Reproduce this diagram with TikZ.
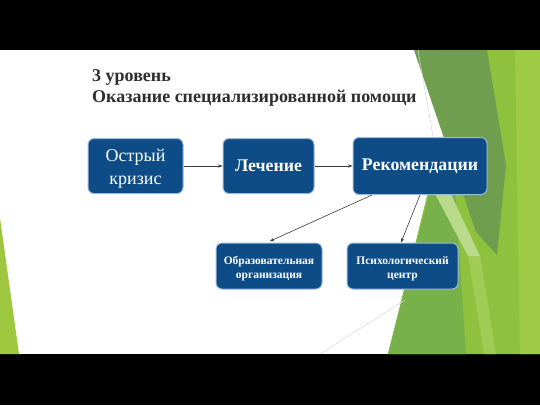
\documentclass[tikz,border=0pt]{standalone}
\usepackage{fontspec}
\setmainfont{Liberation Serif}
\usetikzlibrary{arrows.meta}
\definecolor{boxblue}{HTML}{0D4C86}
\definecolor{boxedge}{HTML}{9DBAD8}
\definecolor{titlegray}{HTML}{2E2E2E}
\definecolor{arrgray}{HTML}{3A3A3A}
\definecolor{gyellow}{HTML}{8EC13E}
\definecolor{glight}{HTML}{9DCB45}
\definecolor{gmed}{HTML}{6E9E4E}
\definecolor{gmid}{HTML}{78B04A}
\definecolor{gpale}{HTML}{B8DA8A}
\definecolor{gband}{HTML}{9FCC55}
\definecolor{gleft}{HTML}{9CC73F}
\definecolor{faint}{HTML}{D8D8D8}
\begin{document}
\begin{tikzpicture}[x=1pt,y=-1pt,
  box/.style={draw=boxedge, line width=1pt, fill=boxblue, rounded corners=6pt,
    text=white, align=center, inner sep=2pt},
  bigtext/.style={font=\fontsize{18}{22.5}\selectfont},
  bigbold/.style={font=\bfseries\fontsize{17.8}{22.5}\selectfont},
  smalltext/.style={font=\bfseries\fontsize{11.5}{13.5}\selectfont},
  titletext/.style={anchor=base west, inner sep=0pt, text=titlegray, font=\bfseries\fontsize{18}{21}\selectfont},
  arr/.style={draw=arrgray, line width=0.6pt, -{Stealth[length=4.5pt,width=3.2pt]}}]
\useasboundingbox (0,0) rectangle (540,405);
\fill[black] (0,0) rectangle (540,405);
\fill[white] (0,50) rectangle (540,354);
\begin{scope}
\clip (0,50) rectangle (540,354);
% green decoration
\fill[gyellow] (483,50) -- (540,50) -- (540,354) -- (388,354) -- (428,192) -- (445,140) -- cycle;
\fill[glight] (515,50) -- (540,50) -- (540,354) -- (520,354) -- cycle;
\fill[gmid] (430,190) -- (455,190) -- (466,354) -- (388,354) -- cycle;
\fill[gband] (468,255) -- (480,255) -- (496,354) -- (484,354) -- cycle;
\fill[gpale] (434,192) -- (450,192) -- (480,256) -- (468,256) -- cycle;
\fill[gmed] (414,50) -- (487,50) -- (506,165) -- (497,255) -- (476,232) -- cycle;
\fill[gleft] (0,218) -- (0,354) -- (19,354) -- cycle;
\draw[faint, line width=0.5pt] (418,50) -- (434,142);
\draw[faint, line width=0.5pt] (405,300) -- (320,354);
\end{scope}
% title
\node[titletext] (t1) at (92,81) {3 уровень};
\node[titletext] (t2) at (92,102) {Оказание специализированной помощи};
% boxes
\node[box, bigtext, minimum width=95pt, minimum height=55pt, text height=40pt] (b1) at (135.5,166) {Острый\\кризис};
\node[box, bigbold, minimum width=91pt, minimum height=55pt] (b2) at (268.5,166) {Лечение};
\node[box, bigbold, minimum width=134pt, minimum height=57pt] (b3) at (420,166) {Рекомендации};
\node[box, smalltext, minimum width=106pt, minimum height=46pt, text height=27pt] (b4) at (269,266) {Образовательная\\организация};
\node[box, smalltext, minimum width=111pt, minimum height=46pt, text height=27pt] (b5) at (402.5,266) {Психологический\\центр};
% connectors
\draw[arr] (b1) -- (b2);
\draw[arr] (b2) -- (b3);
\draw[arr, shorten >=3pt] ([xshift=-48pt]b3.south) -- ([xshift=-2pt]b4.north);
\draw[arr] (b3.south) -- ([xshift=-1.5pt]b5.north);
\end{tikzpicture}
\end{document}
